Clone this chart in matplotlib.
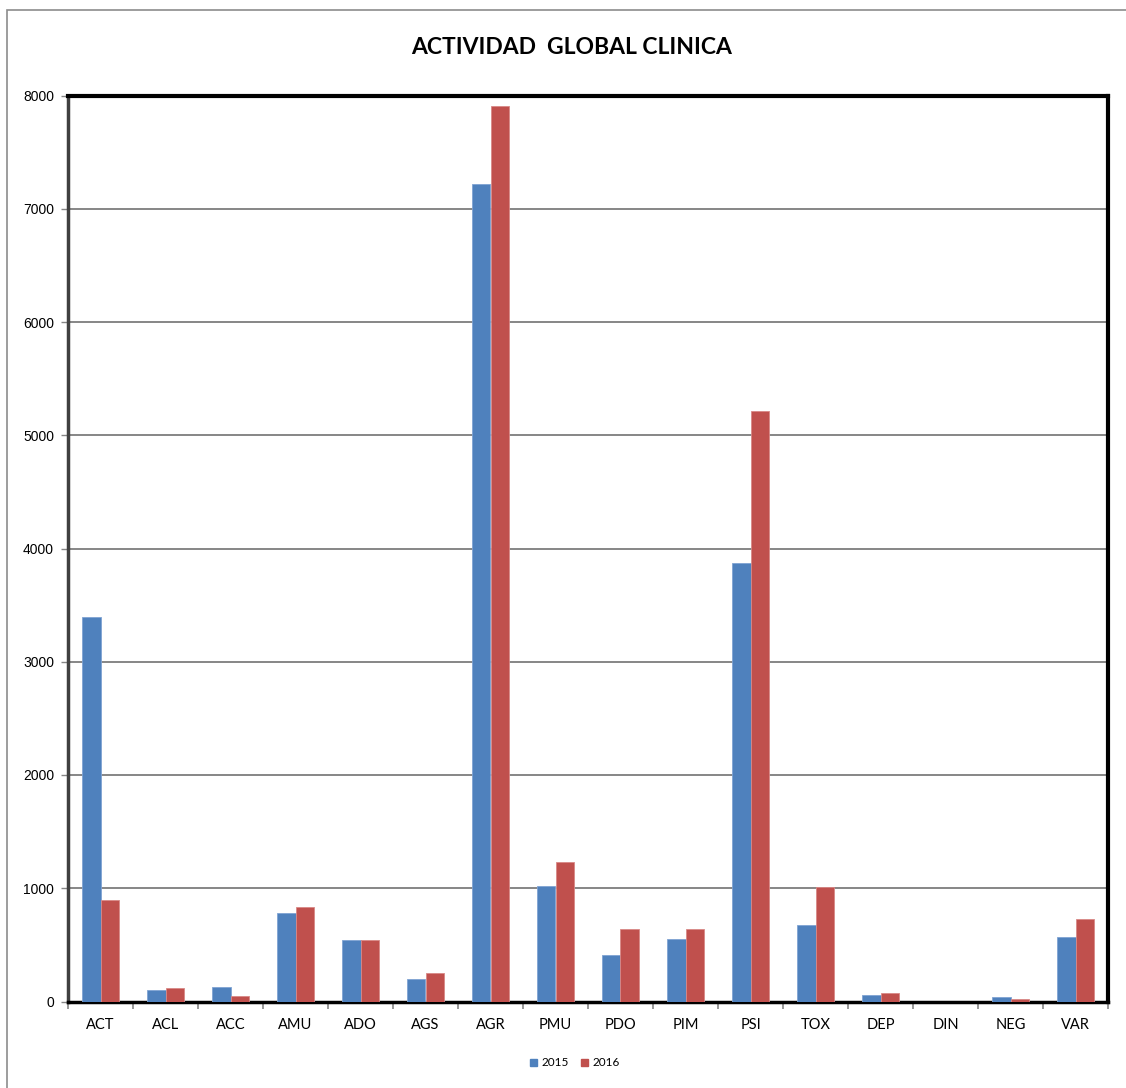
import matplotlib
matplotlib.use("Agg")
import matplotlib.pyplot as plt
from matplotlib.patches import Rectangle, Patch
import numpy as np

categories = ["ACT", "ACL", "ACC", "AMU", "ADO", "AGS", "AGR", "PMU",
              "PDO", "PIM", "PSI", "TOX", "DEP", "DIN", "NEG", "VAR"]
values_2015 = [3391, 102, 125, 783, 540, 200, 7215, 1017,
               413, 552, 3873, 675, 60, 0, 40, 567]
values_2016 = [893, 120, 45, 834, 540, 250, 7904, 1234,
               637, 637, 5214, 1011, 75, 0, 25, 728]
series_labels = ["2015", "2016"]
yticks = [0, 1000, 2000, 3000, 4000, 5000, 6000, 7000, 8000]
title = "ACTIVIDAD  GLOBAL CLINICA"

W, H = 1126, 1088
fig = plt.figure(figsize=(W / 100, H / 100), dpi=100)
fig.patch.set_facecolor("white")

# chart-area border (clipped at right/bottom as in the reference)
fig.add_artist(Rectangle((6.5 / W, -0.05), 1.2, (H - 9.5) / H + 0.05,
                         transform=fig.transFigure, fill=False,
                         edgecolor="#8c8c8c", linewidth=1.2))

left, right = 68 / W, 1108 / W
bottom, top = 1 - 1001.5 / H, 1 - 95.5 / H
ax = fig.add_axes([left, bottom, right - left, top - bottom])

n = len(categories)
x = np.arange(n)
bw = 1 / 3.5
c15, c16 = "#4F81BD", "#C0504D"
ax.bar(x - bw / 2, values_2015, width=bw, color=c15, edgecolor="#7fa3d3",
       linewidth=0.6, zorder=3, label=series_labels[0])
ax.bar(x + bw / 2, values_2016, width=bw, color=c16, edgecolor="#d98886",
       linewidth=0.6, zorder=3, label=series_labels[1])

ax.set_xlim(-0.5, n - 0.5)
ax.set_ylim(0, 8000)
ax.set_yticks(yticks)
ax.set_yticklabels([str(v) for v in yticks], fontsize=10,
                   family="Liberation Sans")
ax.yaxis.grid(True, color="#868686", linewidth=1.4, zorder=0)
ax.tick_params(axis="y", direction="out", length=5, width=1,
               color="#868686", pad=5)

ax.set_xticks(np.arange(n + 1) - 0.5)
ax.set_xticklabels([])
ax.tick_params(axis="x", which="major", direction="out", length=5, width=1.2,
               color="#868686")
ax.set_xticks(x, minor=True)
ax.set_xticklabels(categories, minor=True, fontsize=10.5, family="Lato")
ax.tick_params(axis="x", which="minor", length=0, pad=12)

for s in ("top", "right"):
    ax.spines[s].set_color("black")
    ax.spines[s].set_linewidth(3)
ax.spines["bottom"].set_color("black")
ax.spines["bottom"].set_linewidth(2.5)
ax.spines["left"].set_color("#404040")
ax.spines["left"].set_linewidth(2.5)

fig.text(572 / W, 1 - 47 / H, title, ha="center", va="center",
         fontsize=16.5, fontweight="bold", family="Lato")

handles = [Patch(color=c15, label=series_labels[0]),
           Patch(color=c16, label=series_labels[1])]
fig.legend(handles=handles, loc="center", bbox_to_anchor=(575 / W, 1 - 1063 / H),
           ncol=2, frameon=False, prop={"family": "Lato", "size": 8.5},
           handlelength=0.6, handleheight=0.6, handletextpad=0.4,
           columnspacing=1.0)

fig.savefig("out.png", dpi=100, facecolor="white")
